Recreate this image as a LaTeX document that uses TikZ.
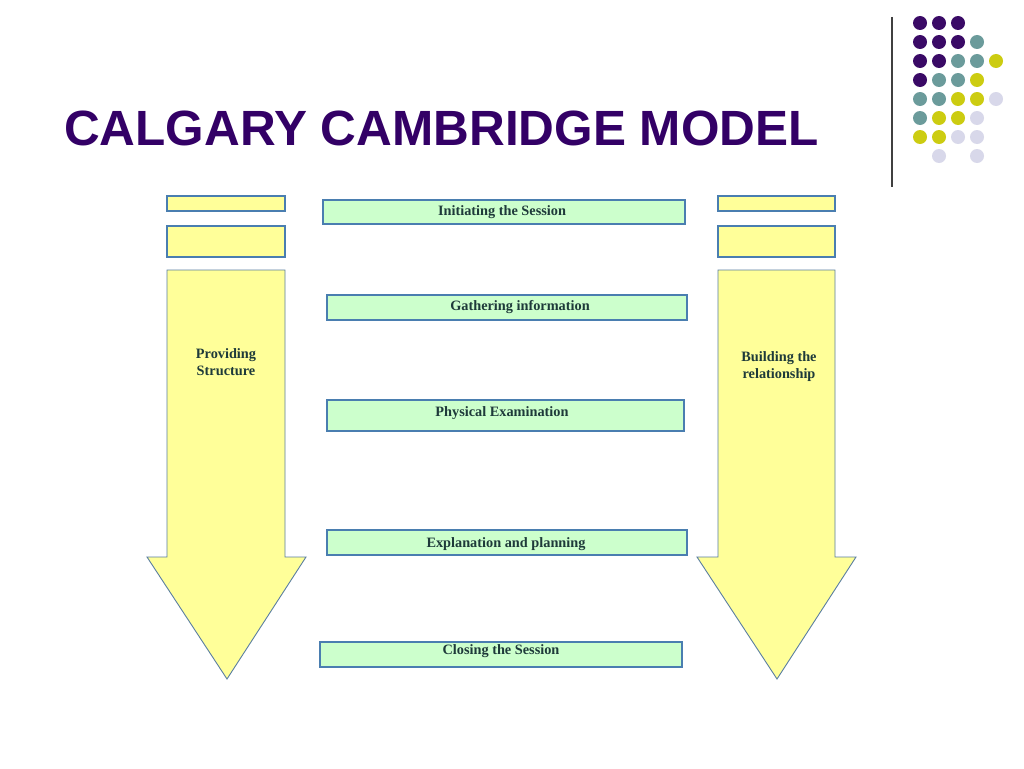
\documentclass[tikz,border=0pt]{standalone}
\usepackage{fontspec}
\setmainfont{Liberation Serif}
\newfontfamily\titlefont{Liberation Sans}
\definecolor{ttl}{HTML}{330066}
\definecolor{dP}{HTML}{3A0A66}
\definecolor{dT}{HTML}{6B9B9B}
\definecolor{dY}{HTML}{CCCC11}
\definecolor{dL}{HTML}{D8D8EA}
\definecolor{yfill}{HTML}{FFFF99}
\definecolor{gfill}{HTML}{CCFFCC}
\definecolor{bord}{HTML}{4A7EB0}
\definecolor{txt}{HTML}{1E3A3A}
\tikzset{
  ybox/.style={draw=bord, fill=yfill, line width=1.2pt},
  gbox/.style={draw=bord, fill=gfill, line width=1.2pt},
  arrowshape/.style={draw=bord!70!gray, fill=yfill, line width=0.9pt, line join=miter},
  lbl/.style={font=\bfseries\fontsize{14.3}{17}\selectfont, text=txt, inner sep=0pt},
  dot/.style={circle, minimum size=14pt, inner sep=0pt},
}
\begin{document}
\begin{tikzpicture}[x=1pt,y=-1pt]
\useasboundingbox[fill=white] (0,0) rectangle (1024,768);
% title
\node[anchor=base west, inner sep=0pt, text=ttl, font=\titlefont\bfseries\fontsize{49.5}{55}\selectfont] (title) at (64,145) {CALGARY CAMBRIDGE MODEL};
% vertical rule
\draw[line width=1.2pt, color=black!75] (892,17) -- (892,187);
% dots
\foreach \r/\list in {0/{P,P,P}, 1/{P,P,P,T}, 2/{P,P,T,T,Y}, 3/{P,T,T,Y}, 4/{T,T,Y,Y,L}, 5/{T,Y,Y,L}, 6/{Y,Y,L,L}}{
  \foreach \c [count=\i from 0] in \list {
    \node[dot, fill=d\c] (dot-\r-\i) at ({920+19*\i},{23+19*\r}) {};
  }
}
\node[dot, fill=dL] (dot-7-1) at (939,156) {};
\node[dot, fill=dL] (dot-7-3) at (977,156) {};
% left column
\draw[ybox] (167,196) rectangle (285,211);
\draw[ybox] (167,226) rectangle (285,257);
\draw[arrowshape] (167,270) -- (285,270) -- (285,557) -- (306,557) -- (227,679) -- (147,557) -- (167,557) -- cycle;
\node[lbl, align=center] (ps) at (226,362) {Providing\\Structure};
% right column
\draw[ybox] (718,196) rectangle (835,211);
\draw[ybox] (718,226) rectangle (835,257);
\draw[arrowshape] (718,270) -- (835,270) -- (835,557) -- (856,557) -- (777,679) -- (697,557) -- (718,557) -- cycle;
\node[lbl, align=center] (br) at (779,367) {Building the\\relationship};
% green boxes
\draw[gbox] (323,200) rectangle (685,224);
\node[lbl] (g1) at (502,212) {Initiating the Session};
\draw[gbox] (327,295) rectangle (687,320);
\node[lbl] (g2) at (520,307.5) {Gathering information};
\draw[gbox] (327,400) rectangle (684,431);
\node[lbl] (g3) at (502,413.5) {Physical Examination};
\draw[gbox] (327,530) rectangle (687,555);
\node[lbl] (g4) at (506,544.5) {Explanation and planning};
\draw[gbox] (320,642) rectangle (682,667);
\node[lbl] (g5) at (501,651.5) {Closing the Session};
\end{tikzpicture}
\end{document}
